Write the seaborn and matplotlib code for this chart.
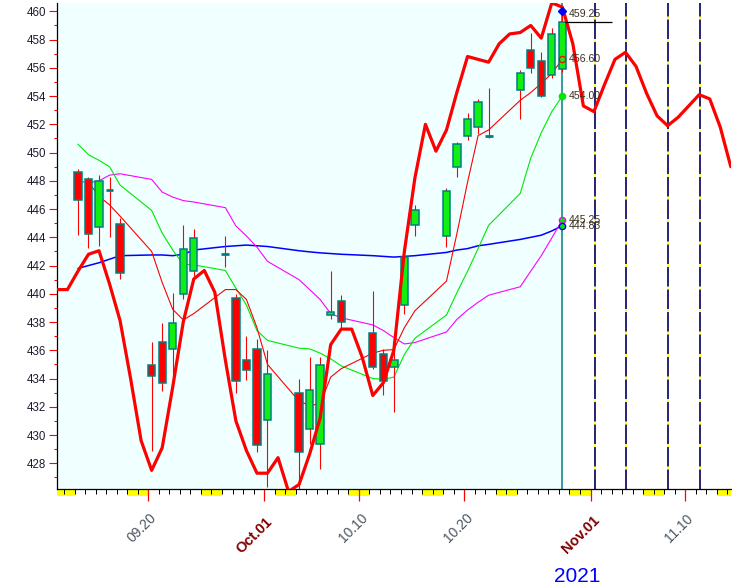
import numpy as np
import pandas as pd
import matplotlib
matplotlib.use("Agg")
import matplotlib.pyplot as plt
import matplotlib.transforms as mtransforms
from matplotlib.patches import Rectangle
from matplotlib.ticker import MultipleLocator, FixedLocator
import seaborn as sns

# ====================
# DATOS
# ====================
trade_dates = ["2021-09-13", "2021-09-14", "2021-09-15", "2021-09-16", "2021-09-17",
               "2021-09-20", "2021-09-21", "2021-09-22", "2021-09-23", "2021-09-24",
               "2021-09-27", "2021-09-28", "2021-09-29", "2021-09-30", "2021-10-01",
               "2021-10-04", "2021-10-05", "2021-10-06", "2021-10-07", "2021-10-08",
               "2021-10-11", "2021-10-12", "2021-10-13", "2021-10-14", "2021-10-15",
               "2021-10-18", "2021-10-19", "2021-10-20", "2021-10-21", "2021-10-22",
               "2021-10-25", "2021-10-26", "2021-10-27", "2021-10-28", "2021-10-29"]

opens = [448.65, 448.15, 444.7, 447.33, 444.97,
         434.96, 436.6, 436.1, 440.0, 441.6,
         442.8, 439.7, 435.3, 436.1, 431.1,
         433.0, 430.4, 429.4, 438.5, 439.5,
         437.2, 435.75, 434.8, 439.2, 444.9,
         444.1, 449.0, 451.2, 451.8, 451.15,
         454.4, 457.25, 456.47, 455.5, 455.95]
closes = [446.67, 444.25, 447.96, 447.33, 441.45,
          434.2, 433.7, 437.96, 443.2, 443.97,
          442.8, 433.85, 434.6, 429.3, 434.3,
          428.8, 433.2, 434.96, 438.74, 438.0,
          434.8, 433.8, 435.3, 442.6, 445.9,
          447.25, 450.6, 452.4, 453.6, 451.15,
          455.6, 456.0, 454.0, 458.4, 459.25]
highs = [448.86, 448.3, 448.4, 448.3, 445.4,
         436.57, 437.9, 440.04, 444.85, 444.6,
         444.1, 440.0, 437.0, 436.8, 436.05,
         434.0, 435.5, 435.5, 441.65, 439.9,
         440.2, 436.1, 436.05, 442.8, 446.26,
         447.5, 450.75, 452.8, 453.8, 454.6,
         455.84, 458.5, 457.1, 458.8, 460.3]
lows = [444.16, 443.26, 443.4, 444.0, 441.05,
        428.9, 433.1, 433.85, 439.65, 441.25,
        441.9, 432.95, 433.9, 428.8, 426.3,
        426.2, 429.4, 427.6, 438.2, 437.45,
        434.7, 432.85, 431.6, 438.6, 444.1,
        443.3, 448.3, 450.9, 451.35, 451.05,
        452.4, 455.6, 453.9, 455.3, 455.7]

ma5 = [np.nan, 447.9, 446.9, 446.3, 445.5,
       443.0, 440.8, 438.9, 438.15, 438.6,
       440.3, 440.3, 439.6, 437.6, 435.0,
       432.4, 432.1, 432.2, 434.1, 434.7,
       435.8, 436.0, 436.05, 437.6, 438.8,
       440.9, 444.3, 447.9, 451.2, 451.6,
       453.7, 454.25, 454.9, 455.6, 456.6]
ma10 = [450.6, 449.85, 449.45, 449.0, 447.7,
        445.9, 444.3, 443.1, 442.1, 442.05,
        441.65, 440.4, 439.2, 437.4, 436.7,
        436.15, 436.1, 435.8, 435.4, 434.9,
        434.0, 433.95, 434.1, 435.7, 436.85,
        438.5, 440.1, 441.6, 443.2, 444.85,
        447.1, 449.6, 451.4, 452.9, 454.0]
ma20 = [448.0, 447.85, 448.0, 448.4, 448.5,
        448.1, 447.2, 446.85, 446.6, 446.5,
        446.1, 444.8, 444.1, 443.3, 442.3,
        441.0, 440.3, 439.6, 438.6, 438.3,
        437.8, 437.4, 436.9, 436.45, 436.55,
        437.3, 438.2, 438.85, 439.4, 439.9,
        440.5, 441.6, 442.7, 443.95, 445.25]
ma60 = [441.8, 442.0, 442.2, 442.45, 442.7,
        442.75, 442.75, 442.7, 442.8, 443.1,
        443.35, 443.4, 443.45, 443.4, 443.35,
        443.05, 442.97, 442.9, 442.85, 442.8,
        442.7, 442.65, 442.6, 442.65, 442.7,
        442.93, 443.1, 443.2, 443.4, 443.5,
        443.85, 444.0, 444.15, 444.45, 444.83]

# linea de ciclo (un punto por dia calendario, 2021-09-11 .. 2021-11-14)
cycle_start, cycle_end = "2021-09-11", "2021-11-14"
cycle = [440.3, 440.3, 441.6, 442.8, 443.05, 440.7, 438.1, 434.0, 429.6, 427.5,
         429.1, 433.4, 438.0, 441.05, 441.65, 440.1, 435.3, 431.0, 428.9, 427.3,
         427.3, 428.4, 426.0, 426.5, 428.65, 431.2, 436.4, 437.5, 437.5, 435.5,
         432.8, 433.7, 436.0, 443.0, 448.2, 452.0, 450.1, 451.6, 454.3, 456.8,
         456.6, 456.4, 457.7, 458.4, 458.5, 459.0, 458.1, 460.6, 460.3, 457.7,
         453.3, 452.9, 454.8, 456.6, 457.1, 456.1, 454.2, 452.6, 451.9, 452.5,
         453.3, 454.1, 453.8, 451.8, 449.0]

marker_dates = ["2021-11-01", "2021-11-04", "2021-11-08", "2021-11-11"]
tick_dates = ["2021-09-20", "2021-10-01", "2021-10-10", "2021-10-20", "2021-11-01", "2021-11-10"]
tick_labels = ["09.20", "Oct.01", "10.10", "10.20", "Nov.01", "11.10"]
tick_bold = [False, True, False, False, True, False]
year_label = "2021"

# ====================
# ESTILO
# ====================
sns.set_theme(style="white")
plt.rcParams["font.family"] = ["Liberation Sans", "DejaVu Sans"]
plt.rcParams["lines.scale_dashes"] = False

BASE = pd.Timestamp("2021-09-20")
OFF = 0.32  # velas centradas dentro del dia
XMIN, XMAX = -8.67, 55.34
YMIN, YMAX = 426.18, 460.59

df = pd.DataFrame({"date": pd.to_datetime(trade_dates), "open": opens, "close": closes,
                   "high": highs, "low": lows, "ma5": ma5, "ma10": ma10,
                   "ma20": ma20, "ma60": ma60})
df["x"] = (df["date"] - BASE).dt.days + OFF

cyc = pd.DataFrame({"date": pd.date_range(cycle_start, cycle_end), "v": cycle})
cyc["x"] = (cyc["date"] - BASE).dt.days + OFF

fig = plt.figure(figsize=(7.32, 5.87), dpi=100, facecolor="white")
ax = fig.add_axes([57 / 732, 98 / 587, 674 / 732, 486 / 587])
ax.set_facecolor("white")

last = df.iloc[-1]
last_x = last["x"]

# fondo
ax.axvspan(XMIN, last_x, color="#F0FFFF", lw=0, zorder=0.1)

# lineas verticales de pronostico
for d in marker_dates:
    xd = (pd.Timestamp(d) - BASE).days + 0.4
    ax.axvline(xd, color="#FFFF00", lw=1.1, zorder=1)
    ax.axvline(xd, color="#000080", lw=1.2, dashes=(14, 2.2), zorder=1.1)
ax.axvline(last_x, color="#008080", lw=1.1, zorder=1.2)

# medias moviles
for col, colr, lw in [("ma60", "#0000FF", 1.1), ("ma20", "#FF00FF", 0.8),
                      ("ma10", "#00E800", 0.8), ("ma5", "#FF0000", 0.8)]:
    sns.lineplot(data=df.dropna(subset=[col]), x="x", y=col, ax=ax, color=colr,
                 lw=lw, estimator=None, sort=False, zorder=2)

# velas
ax.vlines(df["x"], df["low"], df["high"], color="#FF0000", lw=0.8, zorder=3)
up = df[df["close"] > df["open"]]
dn = df[df["close"] < df["open"]]
dj = df[df["close"] == df["open"]]
ax.bar(up["x"], up["close"] - up["open"], bottom=up["open"], width=0.7,
       color="#11EE11", edgecolor="#008080", linewidth=1.1, zorder=4)
ax.bar(dn["x"], dn["open"] - dn["close"], bottom=dn["close"], width=0.7,
       color="#FF0000", edgecolor="#008080", linewidth=1.1, zorder=4)
ax.hlines(dj["open"], dj["x"] - 0.37, dj["x"] + 0.37, color="#008080", lw=2, zorder=4)

# linea de ciclo
sns.lineplot(data=cyc, x="x", y="v", ax=ax, color="#FF0000", lw=2.3,
             estimator=None, sort=False, zorder=5)

# marcas y valores al final
ax.hlines(last["close"], last_x + 0.3, last_x + 4.7, color="black", lw=0.9, zorder=5)
ax.plot(last_x - 0.05, last["high"] - 0.25, marker="D", color="#0000FF", ms=4, zorder=6)
ax.plot(last_x, last["ma5"], "o", mfc="none", mec="#FF0000", ms=4.5, mew=0.9, zorder=6)
ax.plot(last_x, last["ma10"], "o", color="#00E800", ms=4.5, zorder=6)
ax.plot(last_x, last["ma20"], "o", mfc="#00E800", mec="#FF00FF", ms=4.5, mew=1, zorder=6)
ax.plot(last_x, last["ma60"], "o", mfc="#00E800", mec="#0000FF", ms=4.5, mew=1, zorder=6)
lab_x = last_x + 0.6
for val, dy in [(last["close"], 8), (last["ma5"], 0), (last["ma10"], 0),
                (last["ma20"], 0), (last["ma60"], 0)]:
    ax.annotate(f"{val:.2f}", xy=(lab_x, val), xytext=(0, dy), textcoords="offset pixels",
                ha="left", va="center", fontsize=7.6, color="#3a3020", zorder=7)

# ejes
ax.set_xlim(XMIN, XMAX)
ax.set_ylim(YMIN, YMAX)
ax.set_xlabel("")
ax.set_ylabel("")
for s in ["top", "right"]:
    ax.spines[s].set_visible(False)
for s in ["left", "bottom"]:
    ax.spines[s].set_color("black")
    ax.spines[s].set_linewidth(0.9)

ax.yaxis.set_major_locator(MultipleLocator(2))
ax.yaxis.set_minor_locator(MultipleLocator(1))
ax.tick_params(axis="y", which="major", left=True, direction="out", length=6, width=0.8,
               color="#FF0000", labelcolor="#1c1c30", labelsize=8.3, pad=2)
ax.tick_params(axis="y", which="minor", left=True, direction="out", length=2.5, width=0.8,
               color="#FF0000")

tick_x = [(pd.Timestamp(d) - BASE).days for d in tick_dates]
ax.xaxis.set_major_locator(FixedLocator(tick_x))
ax.xaxis.set_minor_locator(MultipleLocator(1))
ax.tick_params(axis="x", which="major", bottom=True, direction="out", length=8.6, width=0.9,
               color="#FF0000", labelbottom=False)
ax.tick_params(axis="x", which="minor", bottom=True, direction="out", length=3.6, width=0.72,
               color="black")

# fines de semana (amarillo bajo el eje)
blend = mtransforms.blended_transform_factory(ax.transData, ax.transAxes)
for sat in pd.date_range(cycle_start, cycle_end, freq="7D"):
    d0 = (sat - BASE).days
    x0, x1 = max(d0, XMIN), min(d0 + 2, XMAX)
    ax.add_patch(Rectangle((x0, -7 / 486), x1 - x0, 7 / 486, transform=blend,
                           color="#FFFF00", lw=0, clip_on=False, zorder=0.2))

for xv, lab, bold in zip(tick_x, tick_labels, tick_bold):
    off = (-10, -46) if bold else (-6, -39)
    ax.annotate(lab, xy=(xv, 0), xycoords=("data", "axes fraction"), xytext=off,
                textcoords="offset pixels", rotation=45, ha="center", va="center",
                fontsize=10.5 if bold else 10, fontweight="bold" if bold else "normal",
                color="#800000" if bold else "#4a5560", annotation_clip=False)

fig.text(577 / 732, 1 - 577 / 587, year_label, ha="center", va="center",
         fontsize=15, color="#0000FF")

fig.savefig("out.png", dpi=100)
